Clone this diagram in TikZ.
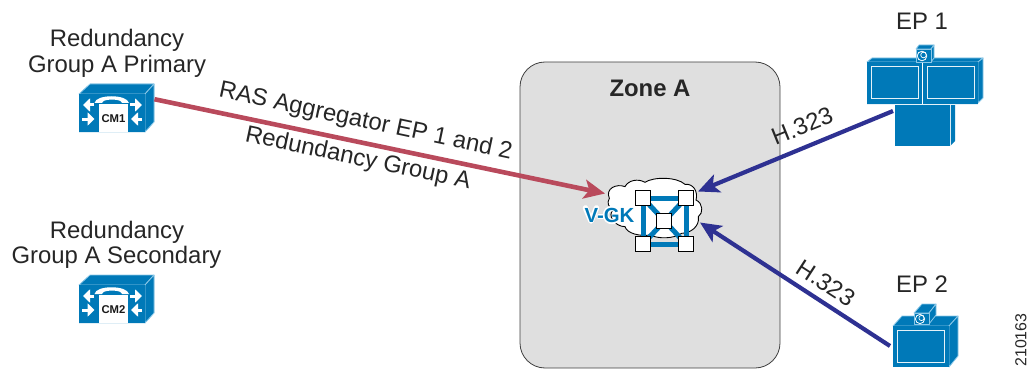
\documentclass[tikz,border=0pt]{standalone}
\usepackage{fontspec}
\setmainfont{Liberation Sans}
\usetikzlibrary{arrows.meta}
\definecolor{iconblue}{HTML}{0079B8}
\definecolor{iconedge}{HTML}{8CC8E8}
\definecolor{linkred}{HTML}{B94A5C}
\definecolor{linkblue}{HTML}{2E3192}
\definecolor{zonegray}{HTML}{DFDFDF}
\tikzset{
  lab/.style={font=\fontsize{23.9}{28}\selectfont,inner sep=0pt,text=black!85},
  face/.style={fill=iconblue,draw=iconedge,line width=0.8pt,line join=round},
  trim/.style={draw=white!90!iconblue,line width=1pt,fill=none},
  whitearrow/.style={white,line width=3pt,-{Triangle[length=7pt,width=13pt]}},
  redlink/.style={draw=linkred,line width=4.6pt,-{Stealth[length=21pt,width=19pt,inset=5pt]}},
  bluelink/.style={draw=linkblue,line width=4.2pt,-{Stealth[length=21pt,width=19pt,inset=5pt]}},
  hub/.style={draw=black,fill=white,line width=0.7pt,minimum size=14.5pt,inner sep=0pt},
  spoke/.style={draw=iconblue,line width=5pt},
  anchorbox/.style={minimum width=#1,inner sep=0pt,outer sep=0pt},
}
\newcommand{\cmicon}[3]{%
  \begin{scope}[shift={(#1,#2)}]
    \fill[iconblue] (0,0) -- (11,-10) -- (75,-10) -- (75,28) -- (66,38) -- (0,38) -- cycle;
    \draw[face] (0,0) -- (11,-10) -- (75,-10) -- (66,0) -- cycle;
    \draw[face] (66,0) -- (75,-10) -- (75,28) -- (66,38) -- cycle;
    \fill[iconblue] (0,0) rectangle (65.6,38);
    \fill[white] (20,10) rectangle (49,38);
    \fill[white] (15.5,9) .. controls (17,0) and (48,0) .. (50,9) -- (43,9) -- (42,7.5) .. controls (40,5) and (26,5) .. (24,7.5) -- (23,9) -- cycle;
    \draw[whitearrow] (15,11) -- (4,11);
    \draw[whitearrow] (3,25) -- (15.5,25);
    \draw[whitearrow] (51,11) -- (63,11);
    \draw[whitearrow] (63,25) -- (52,25);
    \node[font=\bfseries\fontsize{11.3}{13}\selectfont,inner sep=0pt,text=black!90] at (34.5,24.5) {#3};
  \end{scope}}
\begin{document}
\begin{tikzpicture}[x=1pt,y=-1pt]
\useasboundingbox (0,0) rectangle (1029,369);
% zone
\draw[fill=zonegray,draw=black!75,line width=0.8pt,rounded corners=25pt] (520,62) rectangle (780,368);
\node[font=\bfseries\fontsize{23.9}{28}\selectfont,inner sep=0pt,text=black!85] (zone) at (650,88) {Zone A};
% call managers
\cmicon{79}{94}{CM1}
\cmicon{79}{285}{CM2}
\node[anchorbox=76pt,minimum height=48pt] (cm1) at (116.5,108) {};
\node[anchorbox=76pt,minimum height=48pt] (cm2) at (116.5,299) {};
% labels
\node[lab] (l1) at (117,40) {Redundancy};
\node[lab] (l2) at (117,66) {Group A Primary};
\node[lab] (l3) at (117,232) {Redundancy};
\node[lab] (l4) at (116.5,257) {Group A Secondary};
\node[lab] (ep1l) at (922,21) {EP 1};
\node[lab] (ep2l) at (922,284) {EP 2};
\node[lab,rotate=-12] (ras) at (365.5,122) {RAS Aggregator EP 1 and 2};
\node[lab,rotate=-12] (rg) at (358,159) {Redundancy Group A};
\node[lab,rotate=22] (h1) at (802,126) {H.323};
\node[lab,rotate=-33] (h2) at (826,283) {H.323};
\node[font=\fontsize{15.9}{18}\selectfont,inner sep=0pt,rotate=90,text=black!85] (num) at (1021,340) {210163};
% cloud
\begin{scope}[shift={(570,165)},x=0.3333pt,y=-0.3333pt]
\draw[fill=white,draw=black,line width=0.9pt] (118,100) .. controls (105,70) and (140,55) .. (165,65)
 .. controls (175,45) and (205,40) .. (225,52)
 .. controls (250,35) and (320,35) .. (345,58)
 .. controls (370,55) and (385,80) .. (378,105)
 .. controls (400,115) and (400,145) .. (385,155)
 .. controls (390,185) and (360,205) .. (335,205)
 .. controls (310,222) and (265,222) .. (240,210)
 .. controls (210,215) and (170,205) .. (165,185)
 .. controls (135,185) and (110,150) .. (130,135)
 .. controls (115,125) and (110,115) .. (118,100) -- cycle;
\end{scope}
% mesh
\coordinate (p1) at (643,198);
\coordinate (p2) at (686,198);
\coordinate (p3) at (664,221);
\coordinate (p4) at (643,244);
\coordinate (p5) at (686,244);
\draw[spoke] (p1) -- (p2) -- (p5) -- (p4) -- cycle;
\draw[spoke] (p1) -- (p5);
\draw[spoke] (p2) -- (p4);
\node[hub] (n1) at (p1) {};
\node[hub] (n2) at (p2) {};
\node[hub] (n3) at (p3) {};
\node[hub] (n4) at (p4) {};
\node[hub] (n5) at (p5) {};
% V-GK halo
\begin{scope}[white,line width=5.5pt,line cap=round,line join=round]
\draw (585.5,208) -- (591,221) -- (596.5,208);
\draw (599,216.5) -- (604,216.5);
\draw (612,215) circle (6.5pt);
\draw (622,208) -- (622,222);
\draw (632,208) -- (624,215) -- (632,222);
\end{scope}
\node[font=\bfseries\fontsize{20.4}{24}\selectfont,inner sep=0pt,text=iconblue] (vgk) at (609.5,215) {V-GK};
% EP1
\begin{scope}
\fill[iconblue] (950,104) -- (955,104) -- (955,141) -- (950,146) -- cycle;
\fill[iconblue] (895,104) rectangle (950,146);
\draw[white!85!iconblue,line width=1pt] (950,104) -- (950,146);
\draw[face] (867,62) -- (872,58) -- (983,58) -- (978,62) -- cycle;
\draw[face] (978,62) -- (983,58) -- (983,98) -- (978,103) -- cycle;
\fill[iconblue] (867,62) rectangle (922.3,104);
\fill[iconblue] (923.3,62) rectangle (978,104);
\draw[white!90!iconblue,line width=0.8pt] (867,104.2) -- (978,104.2);
\draw[trim] (871,67) rectangle (918,99);
\draw[trim] (927,67) rectangle (974,99);
\draw[face] (916,49) -- (919,45) -- (934,45) -- (931,49) -- cycle;
\draw[face] (931,49) -- (934,45) -- (934,58) -- (931,62) -- cycle;
\draw[face] (916,49) rectangle (931,62);
\draw[white,line width=0.8pt] (922,56) circle (4.8pt);
\draw[white,line width=0.7pt] (923.5,55) circle (2.8pt);
\end{scope}
\node[anchorbox=116pt,minimum height=88pt] (ep1) at (925,102) {};
% EP2
\begin{scope}
\draw[face] (893,326) -- (902,316) -- (958,316) -- (949,326) -- cycle;
\draw[face] (949,326) -- (958,316) -- (958,356) -- (949,367) -- cycle;
\fill[iconblue] (893,326) rectangle (949,367);
\draw[trim] (897,330) rectangle (944,362);
\draw[face] (914,313) -- (922,304) -- (936,304) -- (929,313) -- cycle;
\draw[face] (929,313) -- (936,304) -- (936,315) -- (929,324) -- cycle;
\draw[face] (914,313) rectangle (929,324);
\draw[white,line width=0.8pt] (920,319) circle (4.6pt);
\draw[white,line width=0.7pt] (921.5,318) circle (2.6pt);
\end{scope}
\node[anchorbox=65pt,minimum height=63pt] (ep2) at (925.5,335.5) {};
% connectors
\coordinate (tipW) at (605,193.5);
\coordinate (tipNE) at (698,191.5);
\coordinate (tipSE) at (700,222.5);
\coordinate (ep1port) at (893,111);
\coordinate (ep2port) at (890,346);
\draw[redlink] (cm1.13) -- (tipW);
\draw[bluelink] (ep1port) -- (tipNE);
\draw[bluelink] (ep2port) -- (tipSE);
\end{tikzpicture}
\end{document}
